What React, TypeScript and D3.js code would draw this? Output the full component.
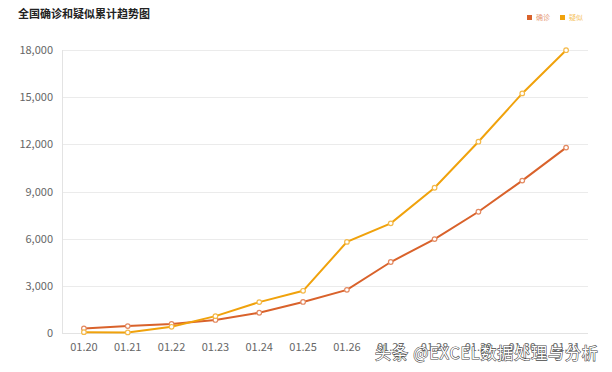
import { useEffect, useRef } from "react"
import * as d3 from "d3"

const dates = ["01.20", "01.21", "01.22", "01.23", "01.24", "01.25", "01.26", "01.27", "01.28", "01.29", "01.30", "01.31"]
const confirmed = [291, 440, 571, 830, 1287, 1975, 2744, 4515, 5974, 7711, 9692, 11791]
const suspected = [54, 37, 393, 1072, 1965, 2684, 5794, 6973, 9239, 12167, 15238, 17988]
const yTicks = [0, 3000, 6000, 9000, 12000, 15000, 18000]

interface Series {
  name: string
  color: string
  values: number[]
}

const seriesList: Series[] = [
  { name: "确诊", color: "#d9622b", values: confirmed },
  { name: "疑似", color: "#f0a20c", values: suspected },
]

const FONT = "'Noto Sans CJK SC', 'Microsoft YaHei', sans-serif"

const App = () => {
  const svgRef = useRef<SVGSVGElement | null>(null)

  useEffect(() => {
    if (!svgRef.current) return
    const svg = d3.select(svgRef.current)
    svg.selectAll("*").remove()

    const width = 612
    const height = 372
    const margin = { top: 50, right: 24, bottom: 39, left: 62 }
    const innerWidth = width - margin.left - margin.right
    const innerHeight = height - margin.top - margin.bottom

    svg.append("rect").attr("width", width).attr("height", height).attr("fill", "#fff")

    const x = d3.scaleBand<string>().domain(dates).range([0, innerWidth]).padding(0)
    const y = d3.scaleLinear().domain([0, 18000]).range([innerHeight, 0])

    const g = svg.append("g").attr("transform", `translate(${margin.left},${margin.top})`)

    // grid lines
    g.append("g")
      .selectAll("line")
      .data(yTicks.slice(1))
      .join("line")
      .attr("x1", 0)
      .attr("x2", innerWidth)
      .attr("y1", (d) => Math.round(y(d)) + 0.5)
      .attr("y2", (d) => Math.round(y(d)) + 0.5)
      .attr("stroke", "#ebebeb")

    // axis lines
    g.append("line")
      .attr("x1", 0.5).attr("x2", 0.5)
      .attr("y1", 0).attr("y2", innerHeight)
      .attr("stroke", "#e3e3e3")
    g.append("line")
      .attr("x1", 0).attr("x2", innerWidth)
      .attr("y1", innerHeight + 0.5).attr("y2", innerHeight + 0.5)
      .attr("stroke", "#e3e3e3")

    // y labels
    g.append("g")
      .selectAll("text")
      .data(yTicks)
      .join("text")
      .attr("x", -9)
      .attr("y", (d) => y(d) + 4)
      .attr("text-anchor", "end")
      .attr("font-family", FONT)
      .attr("font-size", 11)
      .attr("fill", "#666")
      .text((d) => d3.format(",")(d))

    // x labels
    g.append("g")
      .selectAll("text")
      .data(dates)
      .join("text")
      .attr("x", (d) => x(d)! + x.bandwidth() / 2)
      .attr("y", innerHeight + 18)
      .attr("text-anchor", "middle")
      .attr("font-family", FONT)
      .attr("font-size", 11)
      .attr("fill", "#666")
      .text((d) => d)

    // lines + markers
    seriesList.forEach((s) => {
      const line = d3
        .line<number>()
        .x((_, i) => x(dates[i])! + x.bandwidth() / 2)
        .y((d) => y(d))

      g.append("path")
        .datum(s.values)
        .attr("fill", "none")
        .attr("stroke", s.color)
        .attr("stroke-width", 2)
        .attr("d", line)

      g.append("g")
        .selectAll("circle")
        .data(s.values)
        .join("circle")
        .attr("cx", (_, i) => x(dates[i])! + x.bandwidth() / 2)
        .attr("cy", (d) => y(d))
        .attr("r", 2.3)
        .attr("fill", "#fff")
        .attr("stroke", d3.interpolateRgb(s.color, "#fff")(0.25))
        .attr("stroke-width", 1.2)
    })

    // title
    svg.append("text")
      .attr("x", 18)
      .attr("y", 18)
      .attr("font-family", FONT)
      .attr("font-size", 11)
      .attr("font-weight", "bold")
      .attr("fill", "#222")
      .text("全国确诊和疑似累计趋势图")

    // legend
    const legend = svg.append("g").attr("transform", "translate(527,15)")
    seriesList.forEach((s, i) => {
      const row = legend.append("g").attr("transform", `translate(${i * 33},0)`)
      row.append("rect").attr("width", 5).attr("height", 5).attr("fill", s.color)
      row.append("text")
        .attr("x", 9)
        .attr("y", 5)
        .attr("font-family", FONT)
        .attr("font-size", 7)
        .attr("fill", d3.interpolateRgb(s.color, "#fff")(0.35))
        .text(s.name)
    })

    // watermark
    svg.append("text")
      .attr("x", 375)
      .attr("y", 359)
      .attr("font-family", FONT)
      .attr("font-size", 16)
      .attr("letter-spacing", 0.9)
      .attr("fill", "#fff")
      .attr("stroke", "#444")
      .attr("stroke-width", 1.1)
      .attr("paint-order", "stroke")
      .text("头条 @EXCEL数据处理与分析")
  }, [])

  return (
    <div style={{ position: "fixed", left: 0, top: 0, width: 612, height: 372 }}>
      <svg ref={svgRef} width={612} height={372} style={{ display: "block" }} />
    </div>
  )
}

export default App
